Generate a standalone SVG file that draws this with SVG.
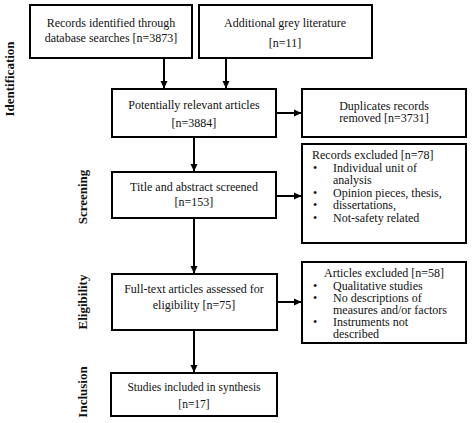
<svg xmlns="http://www.w3.org/2000/svg" width="474" height="423" viewBox="0 0 474 423">
<defs>
<marker id="ah" markerWidth="8" markerHeight="8" refX="7" refY="4" orient="auto" markerUnits="userSpaceOnUse">
<path d="M0,0.5 L7.5,4 L0,7.5 Z" fill="#000"/>
</marker>
</defs>
<style>
.box{fill:#fff;stroke:#000;stroke-width:2}
.t{font-family:"Liberation Serif","DejaVu Serif",serif;font-size:12px;fill:#111}
.s{font-size:11px}
.c{text-anchor:middle}
.side{font-family:"Liberation Serif","DejaVu Serif",serif;font-size:13px;font-weight:bold;fill:#111;text-anchor:middle}
.conn{stroke:#000;stroke-width:2;fill:none;marker-end:url(#ah)}
</style>
<rect width="474" height="423" fill="#fff"/>
<g id="labels">
<text class="side" transform="translate(14,79) rotate(-90)">Identification</text>
<text class="side" transform="translate(87,197) rotate(-90)">Screening</text>
<text class="side" transform="translate(87,302) rotate(-90)">Eligibility</text>
<text class="side" transform="translate(87,392) rotate(-90)">Inclusion</text>
</g>
<g id="connectors">
<line class="conn" x1="164" y1="58" x2="164" y2="88"/>
<line class="conn" x1="226" y1="58" x2="226" y2="88"/>
<line class="conn" x1="276" y1="113" x2="301" y2="113"/>
<line class="conn" x1="194" y1="137" x2="194" y2="171"/>
<line class="conn" x1="276" y1="196" x2="301" y2="196"/>
<line class="conn" x1="194" y1="218" x2="194" y2="273"/>
<line class="conn" x1="277" y1="302" x2="301" y2="302"/>
<line class="conn" x1="194" y1="330" x2="194" y2="372"/>
</g>
<g id="n1">
<rect class="box" x="30" y="5" width="162" height="53"/>
<text class="t c" x="111" y="27">Records identified through</text>
<text class="t c" x="111" y="42">database searches [n=3873]</text>
</g>
<g id="n2">
<rect class="box" x="199" y="5" width="173" height="53"/>
<text class="t c" x="285" y="27">Additional grey literature</text>
<text class="t c" x="285" y="47">[n=11]</text>
</g>
<g id="n3">
<rect class="box" x="112" y="89" width="164" height="48"/>
<text class="t c" x="194" y="109">Potentially relevant articles</text>
<text class="t c" x="194" y="127">[n=3884]</text>
</g>
<g id="n4">
<rect class="box" x="302" y="89" width="164" height="48"/>
<text class="t c" x="384" y="110">Duplicates records</text>
<text class="t c" x="384" y="122">removed [n=3731]</text>
</g>
<g id="n5">
<rect class="box" x="112" y="172" width="164" height="46"/>
<text class="t c" x="194" y="191">Title and abstract screened</text>
<text class="t c" x="194" y="206">[n=153]</text>
</g>
<g id="n6">
<rect class="box" x="302" y="144" width="164" height="99"/>
<text class="t" x="312" y="159">Records excluded [n=78]</text>
<text class="t" x="313" y="172">•</text><text class="t" x="333" y="172">Individual unit of</text>
<text class="t" x="333" y="184">analysis</text>
<text class="t" x="313" y="197">•</text><text class="t" x="333" y="197">Opinion pieces, thesis,</text>
<text class="t" x="313" y="209">•</text><text class="t" x="333" y="209">dissertations,</text>
<text class="t" x="313" y="222">•</text><text class="t" x="333" y="222">Not-safety related</text>
</g>
<g id="n7">
<rect class="box" x="112" y="274" width="165" height="56"/>
<text class="t c" x="194" y="293">Full-text articles assessed for</text>
<text class="t c" x="194" y="309">eligibility [n=75]</text>
</g>
<g id="n8">
<rect class="box" x="302" y="262" width="164" height="81"/>
<text class="t c" x="384" y="277">Articles excluded [n=58]</text>
<text class="t" x="313" y="290">•</text><text class="t" x="333" y="290">Qualitative studies</text>
<text class="t" x="313" y="302">•</text><text class="t" x="333" y="302">No descriptions of</text>
<text class="t" x="333" y="314">measures and/or factors</text>
<text class="t" x="313" y="326">•</text><text class="t" x="333" y="326">Instruments not</text>
<text class="t" x="333" y="338">described</text>
</g>
<g id="n9">
<rect class="box" x="111" y="373" width="166" height="43"/>
<text class="t c" x="194" y="391" style="font-size:11.5px">Studies included in synthesis</text>
<text class="t c" x="194" y="408" style="font-size:11.5px">[n=17]</text>
</g>
</svg>
